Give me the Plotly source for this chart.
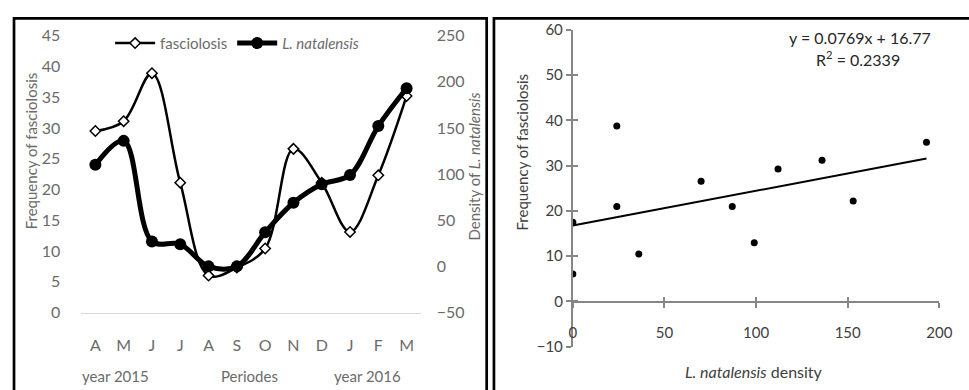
import plotly.graph_objects as go

W, H = 969, 390

# ---------------- data ----------------
months = ["A", "M", "J", "J", "A", "S", "O", "N", "D", "J", "F", "M"]
fasciolosis = [29.5, 31.1, 38.9, 21.1, 6.0, 7.3, 10.4, 26.6, 21.1, 13.1, 22.3, 35.2]
natalensis = [110, 136, 27, 24, 0, 0, 37, 69, 89, 99, 152, 193]

density_x = [0, 0, 24, 24, 36, 70, 87, 99, 112, 136, 153, 193]
freq_y = [17.5, 6.1, 21.0, 38.8, 10.5, 26.6, 21.0, 13.0, 29.3, 31.2, 22.2, 35.2]
slope, intercept = 0.0769, 16.77
eq_text = "y = 0.0769x + 16.77"
r2_text = "R<sup>2</sup> = 0.2339"

FONT = "Lato"
GREY = "#6b6b6b"
DARK = "#404040"

def px(x):
    return x / W

def py(y):
    return (H - y) / H

fig = go.Figure()

idx = list(range(len(months)))

# ---- left chart ----
fig.add_trace(go.Scatter(
    x=idx, y=fasciolosis, name="fasciolosis", mode="lines+markers",
    line=dict(color="black", width=2.5, shape="spline", smoothing=1.0),
    marker=dict(symbol="diamond", size=8, color="white", line=dict(color="black", width=1.5)),
    xaxis="x", yaxis="y"))
fig.add_trace(go.Scatter(
    x=idx, y=natalensis, name="<i>L. natalensis</i>", mode="lines+markers",
    line=dict(color="black", width=5, shape="spline", smoothing=1.0),
    marker=dict(symbol="circle", size=12, color="black"),
    xaxis="x", yaxis="y2"))

# ---- right chart ----
xmin, xmax = min(density_x), max(density_x)
fig.add_trace(go.Scatter(
    x=[xmin, xmax], y=[slope * xmin + intercept, slope * xmax + intercept],
    mode="lines", line=dict(color="black", width=2), showlegend=False,
    xaxis="x2", yaxis="y3"))
fig.add_trace(go.Scatter(
    x=density_x, y=freq_y, mode="markers", showlegend=False,
    marker=dict(color="black", size=7),
    xaxis="x2", yaxis="y3"))

left_dom = [px(78.6), px(424.2)]
left_ydom = [py(318), py(27)]
right_dom = [px(579), px(952)]
right_ydom = [py(354), py(21)]
x_axis_pos = py(306.7)

fig.update_layout(
    width=W, height=H,
    margin=dict(l=0, r=0, t=0, b=0),
    paper_bgcolor="white", plot_bgcolor="rgba(0,0,0,0)",
    font=dict(family=FONT, color=GREY),
    showlegend=True,
    legend=dict(orientation="h", x=px(108), y=py(35), xanchor="left", yanchor="middle",
                font=dict(size=15, color=GREY, family=FONT), bgcolor="rgba(0,0,0,0)",
                itemwidth=40, tracegroupgap=0),
    xaxis=dict(domain=left_dom, range=[-0.5, 11.5], tickvals=idx, ticktext=months,
               showgrid=False, zeroline=False, showline=True, linecolor="#d9d9d9", linewidth=1,
               ticks="", tickfont=dict(size=16, color=GREY), ticklabelstandoff=18,
               anchor="y", fixedrange=True),
    yaxis=dict(domain=left_ydom, range=[0, 45], dtick=5, showgrid=False, zeroline=False,
               showline=False, ticks="", tickfont=dict(size=16, color=GREY),
               ticklabelstandoff=20, anchor="x"),
    yaxis2=dict(domain=left_ydom, range=[-50, 250], dtick=50, overlaying="y", side="right",
                showgrid=False, zeroline=False, showline=False, ticks="",
                tickfont=dict(size=16, color=GREY), ticklabelstandoff=15, anchor="x"),
    xaxis2=dict(domain=right_dom, range=[0, 200], dtick=50, anchor="free", position=x_axis_pos,
                side="bottom", showgrid=False, zeroline=False, showline=True,
                linecolor="#868686", linewidth=2, ticks="outside", ticklen=5,
                tickwidth=2, tickcolor="#868686", tickfont=dict(size=15, color=DARK),
                ticklabelstandoff=12),
    yaxis3=dict(domain=right_ydom, range=[-10, 60], dtick=10, anchor="x2",
                showgrid=False, zeroline=False, showline=True, linecolor="#868686",
                linewidth=2, ticks="outside", ticklen=5, tickwidth=2, tickcolor="#868686",
                tickfont=dict(size=15, color=DARK), ticklabelstandoff=0),
    xaxis3=dict(domain=right_dom, range=[0, 200], dtick=50, anchor="free", position=x_axis_pos,
                overlaying="x2", side="bottom", showgrid=False, zeroline=False, showline=False,
                ticks="inside", ticklen=5, tickwidth=2, tickcolor="#868686",
                showticklabels=False),
    yaxis4=dict(domain=right_ydom, range=[-10, 60], dtick=10, anchor="x2", overlaying="y3",
                showgrid=False, zeroline=False, showline=False, ticks="inside", ticklen=5,
                tickwidth=2, tickcolor="#868686", showticklabels=False),
)

# invisible trace so that the overlay tick axes render
fig.add_trace(go.Scatter(x=[None], y=[None], xaxis="x3", yaxis="y4", showlegend=False))

annotations = [
    dict(text="Frequency of fasciolosis", x=px(27), y=py(148), textangle=-90,
         font=dict(size=15, color=GREY)),
    dict(text="Density of <i>L. natalensis</i>", x=px(478), y=py(165), textangle=-90,
         font=dict(size=15, color=GREY)),
    dict(text="year 2015", x=px(113), y=py(385), font=dict(size=15, color=GREY)),
    dict(text="Periodes", x=px(250), y=py(385), font=dict(size=15, color=GREY)),
    dict(text="year 2016", x=px(370), y=py(385), font=dict(size=15, color=GREY)),
    dict(text="Frequency of fasciolosis", x=px(527), y=py(149), textangle=-90,
         font=dict(size=15, color=DARK)),
    dict(text="<i>L. natalensis</i> density", x=px(763), y=py(380),
         font=dict(size=16, color=DARK)),
    dict(text=eq_text, x=px(946), y=py(29), xanchor="right", font=dict(size=16, color="#262626")),
    dict(text=r2_text, x=px(869), y=py(51), font=dict(size=16, color="#262626")),
]
for a in annotations:
    a.setdefault("xanchor", "center")
    a.update(xref="paper", yref="paper", yanchor="middle", showarrow=False)
fig.update_layout(annotations=annotations)

# panel borders
fig.update_layout(shapes=[
    dict(type="rect", xref="paper", yref="paper", x0=px(10.2), x1=px(491.3),
         y0=-0.1, y1=py(8.7), line=dict(color="black", width=2.7)),
    dict(type="rect", xref="paper", yref="paper", x0=px(498.7), x1=1.1,
         y0=-0.1, y1=py(8.7), line=dict(color="black", width=2.7)),
])

fig.write_html("out.html")
